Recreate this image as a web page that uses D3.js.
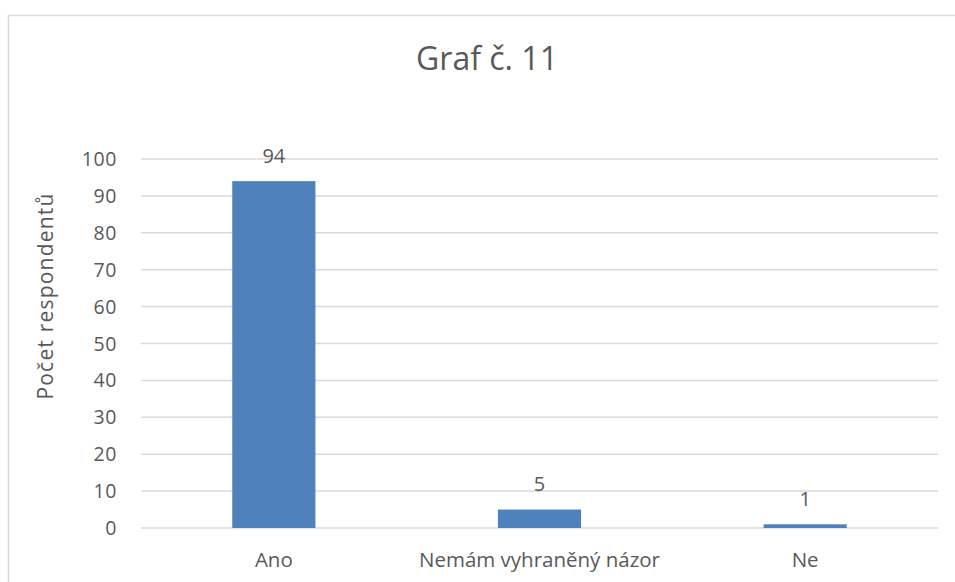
<!DOCTYPE html>
<html>
<head>
<meta charset="utf-8">
<script src="https://cdn.jsdelivr.net/npm/d3@7"></script>
<style>
  body { margin: 0; background: #fff; }
  svg text { font-family: "Open Sans", sans-serif; fill: #595959; }
</style>
</head>
<body>
<svg id="chart" width="955" height="582"></svg>
<script>
const categories = ["Ano", "Nemám vyhraněný názor", "Ne"];
const values = [94, 5, 1];
const yTicks = [0, 10, 20, 30, 40, 50, 60, 70, 80, 90, 100];
const title = "Graf č. 11";
const yTitle = "Počet respondentů";

function drawChart() {
  const svg = d3.select("#chart");
  const margin = { left: 141, right: 17, top: 159, bottom: 54 };
  const width = 955, height = 582;

  // outer chart border (left + top only visible)
  svg.append("path")
    .attr("d", `M8.5,${height} V15.5 H${width}`)
    .attr("fill", "none")
    .attr("stroke", "#d9d9d9")
    .attr("stroke-width", 1.5);

  const x = d3.scaleBand()
    .domain(categories)
    .range([margin.left, width - margin.right]);

  const y = d3.scaleLinear()
    .domain([0, 100])
    .range([height - margin.bottom, margin.top]);

  // gridlines
  svg.append("g")
    .selectAll("line")
    .data(yTicks)
    .join("line")
    .attr("x1", margin.left)
    .attr("x2", width - margin.right)
    .attr("y1", d => y(d))
    .attr("y2", d => y(d))
    .attr("stroke", "#d9d9d9")
    .attr("stroke-width", 1.5);

  // y tick labels
  svg.append("g")
    .selectAll("text")
    .data(yTicks)
    .join("text")
    .attr("x", 117)
    .attr("y", d => y(d))
    .attr("dy", "0.36em")
    .attr("text-anchor", "end")
    .attr("font-size", 19.5)
    .attr("letter-spacing", 0.6)
    .text(d => d);

  const barW = x.bandwidth() * 0.313;

  svg.append("g")
    .selectAll("rect")
    .data(values)
    .join("rect")
    .attr("x", (d, i) => x(categories[i]) + x.bandwidth() / 2 - barW / 2)
    .attr("y", d => y(d))
    .attr("width", barW)
    .attr("height", d => y(0) - y(d))
    .attr("fill", "#4f81bd");

  // data labels
  svg.append("g")
    .selectAll("text")
    .data(values)
    .join("text")
    .attr("x", (d, i) => x(categories[i]) + x.bandwidth() / 2)
    .attr("y", d => y(d) - 18.5)
    .attr("text-anchor", "middle")
    .attr("font-size", 20)
    .text(d => d);

  // category labels
  svg.append("g")
    .selectAll("text")
    .data(categories)
    .join("text")
    .attr("x", d => x(d) + x.bandwidth() / 2)
    .attr("y", 567)
    .attr("text-anchor", "middle")
    .attr("font-size", 20.5)
    .text(d => d);

  svg.append("text")
    .attr("x", 487)
    .attr("y", 70)
    .attr("text-anchor", "middle")
    .attr("font-size", 32)
    .text(title);

  svg.append("text")
    .attr("transform", "translate(53,296) rotate(-90)")
    .attr("text-anchor", "middle")
    .attr("font-size", 21)
    .attr("letter-spacing", 1.2)
    .text(yTitle);
}

drawChart();
</script>
</body>
</html>
